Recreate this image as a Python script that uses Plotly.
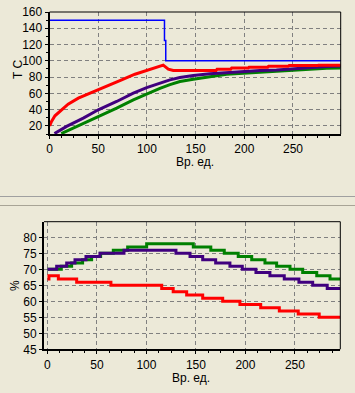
import plotly.graph_objects as go

# ---------------- data: top panel (temperature) ----------------
blue_x = [0, 118, 119.3, 299]
blue_y = [150, 125, 100, 100]

red_x = [0, 2, 5.5, 12.4, 19, 29.5, 39.7, 50, 63.7, 74, 87.7, 101.3, 111.6, 116.7, 121.9, 127,
         171, 172, 186, 187, 204, 205, 224, 225, 245, 246, 275, 276, 299]
red_y = [20, 25.4, 32.4, 39.8, 46.7, 54, 59, 64.3, 71.6, 76.6, 83.5, 88.8, 92.1, 94.6, 89.7, 88,
         88, 89.6, 89.6, 91, 91, 92.2, 92.2, 93.4, 93.4, 94.1, 94.1, 94.5, 94.5]

purple_x = [5, 17.5, 34.6, 50, 68.9, 86, 99.7, 113.3, 123.6, 133.9, 147.6, 164.7, 181.8, 198.9,
            216, 233, 250, 267.3, 284.5, 299]
purple_y = [10.5, 19.3, 29.6, 39.8, 50, 60.2, 67.1, 73, 76.6, 79.4, 81.9, 84, 85.5, 86.8,
            88, 88.8, 90.4, 91.7, 93, 93.5]

green_x = [12, 27.8, 50, 68.9, 86, 99.7, 113.3, 123.6, 133.9, 147.6, 164.7, 181.8, 198.9,
           216, 233, 250, 267.3, 284.5, 299]
green_y = [10.5, 19.3, 30.8, 41.8, 52, 59.4, 66, 70.8, 74.5, 77.4, 80.6, 83.5, 84.8,
           86, 87.2, 88.8, 90.1, 90.9, 91.3]

# ---------------- data: bottom panel (%) ----------------
g2_x = [0, 14, 24.4, 35.5, 44.6, 53.7, 66.5, 81, 100.2, 147.3, 165, 178.6, 192.7, 206.3,
        219.7, 231.5, 245, 257.8, 272, 285.4, 296]
g2_y = [70, 71, 72, 73, 74, 75, 76, 77, 78, 77, 76, 75, 74, 73, 72, 71, 70, 69, 68, 67, 67]

p2_x = [0, 9.3, 19.4, 27.8, 38.9, 53, 77.3, 129.8, 144, 156.8, 169.9, 184.3, 196.8, 210.6,
        224.7, 239.2, 254, 267.9, 282.6, 296]
p2_y = [70, 71, 72, 73, 74, 75, 76, 75, 74, 73, 72, 71, 70, 69, 68, 67, 66, 65, 64, 64]

r2_x = [0, 1.5, 11, 29.5, 64.1, 115.4, 127, 140.6, 156.8, 177, 194.4, 215.4, 234.2, 253.3,
        274.5, 296]
r2_y = [67, 68, 67, 66, 65, 64, 63, 62, 61, 60, 59, 58, 57, 56, 55, 55]

top_yticks = [20, 40, 60, 80, 100, 120, 140, 160]
bot_yticks = [45, 50, 55, 60, 65, 70, 75, 80]
xticks = [0, 50, 100, 150, 200, 250]
x_title = "Вр. ед."

BG = "#ECE9D8"
RED = "#FF0000"
BLUE = "#0000FF"
PURPLE = "#40007F"
GREEN = "#008000"
FONT = "Liberation Sans, Arial, sans-serif"
FS = 12

W, H = 355, 393
fig = go.Figure()

# top panel
fig.add_trace(go.Scatter(x=blue_x, y=blue_y, mode="lines", line=dict(color=BLUE, width=1.5, shape="hv"),
                         xaxis="x", yaxis="y", showlegend=False))
fig.add_trace(go.Scatter(x=green_x, y=green_y, mode="lines", line=dict(color=GREEN, width=3),
                         xaxis="x", yaxis="y", showlegend=False))
fig.add_trace(go.Scatter(x=purple_x, y=purple_y, mode="lines", line=dict(color=PURPLE, width=3),
                         xaxis="x", yaxis="y", showlegend=False))
fig.add_trace(go.Scatter(x=red_x, y=red_y, mode="lines", line=dict(color=RED, width=3),
                         xaxis="x", yaxis="y", showlegend=False))

# bottom panel
fig.add_trace(go.Scatter(x=g2_x, y=g2_y, mode="lines", line=dict(color=GREEN, width=3, shape="hv"),
                         xaxis="x2", yaxis="y2", showlegend=False))
fig.add_trace(go.Scatter(x=p2_x, y=p2_y, mode="lines", line=dict(color=PURPLE, width=3, shape="hv"),
                         xaxis="x2", yaxis="y2", showlegend=False))
fig.add_trace(go.Scatter(x=r2_x, y=r2_y, mode="lines", line=dict(color=RED, width=3, shape="hv"),
                         xaxis="x2", yaxis="y2", showlegend=False))

def px_x(p):
    return p / W

def px_y(p):
    return 1 - p / H

axis_common = dict(
    automargin=False,
    showline=True, linecolor="black", linewidth=2,
    showgrid=True, gridcolor="#808080", gridwidth=1, griddash="4px,3px",
    zeroline=False, ticks="outside", ticklen=3, tickcolor="black",
    tickfont=dict(family=FONT, size=FS, color="black"),
)

fig.update_layout(
    width=W, height=H,
    margin=dict(l=0, r=0, t=0, b=0),
    paper_bgcolor=BG, plot_bgcolor=BG,
    xaxis=dict(domain=[px_x(49.6), px_x(340.7)], range=[0, 299], anchor="y",
               tickvals=xticks, minor=dict(dtick=12.5, ticks="outside", ticklen=2, tickcolor="black",
                                            showgrid=False), **axis_common),
    yaxis=dict(domain=[px_y(134), px_y(12)], range=[10, 160], anchor="x",
               tickvals=top_yticks, minor=dict(dtick=10, tick0=0, ticks="outside", ticklen=2,
                                                tickcolor="black", showgrid=False), **axis_common),
    xaxis2=dict(domain=[px_x(44), px_x(340.3)], range=[-3.5, 295.8], anchor="y2",
                tickvals=xticks, minor=dict(dtick=12.5, ticks="outside", ticklen=2, tickcolor="black",
                                             showgrid=False), **axis_common),
    yaxis2=dict(domain=[px_y(349.3), px_y(221.7)], range=[45, 84.9], anchor="x2",
                tickvals=bot_yticks, **axis_common),
)

shapes = []
for xr, yr in (("x domain", "y domain"), ("x2 domain", "y2 domain")):
    shapes.append(dict(type="line", xref=xr, yref=yr, x0=0, x1=1, y0=1, y1=1,
                       line=dict(color="black", width=1)))
    shapes.append(dict(type="line", xref=xr, yref=yr, x0=1, x1=1, y0=0, y1=1,
                       line=dict(color="black", width=1)))
# separator lines between the panels
for yy, col in ((196.5, "#A0A0A0"), (205.5, "#A8A496")):
    shapes.append(dict(type="line", xref="paper", yref="paper", x0=0, x1=1,
                       y0=px_y(yy), y1=px_y(yy), line=dict(color=col, width=1)))
fig.update_layout(shapes=shapes)

ann_font = dict(family=FONT, size=FS, color="black")
fig.update_layout(annotations=[
    dict(text="T C", x=px_x(18), y=px_y(70), xref="paper", yref="paper", showarrow=False,
         textangle=-90, font=ann_font, xanchor="center", yanchor="middle"),
    dict(text=x_title, x=px_x(195), y=px_y(162), xref="paper", yref="paper", showarrow=False,
         font=ann_font, xanchor="center", yanchor="middle"),
    dict(text="%", x=px_x(15), y=px_y(286), xref="paper", yref="paper", showarrow=False,
         textangle=-90, font=ann_font, xanchor="center", yanchor="middle"),
    dict(text=x_title, x=px_x(191.5), y=px_y(378), xref="paper", yref="paper", showarrow=False,
         font=ann_font, xanchor="center", yanchor="middle"),
])

fig.write_html(
    "out.html",
    config={"displayModeBar": False},
    post_script="document.body.style.margin='0';document.body.style.padding='0';"
                "document.body.style.background='" + BG + "';",
)
